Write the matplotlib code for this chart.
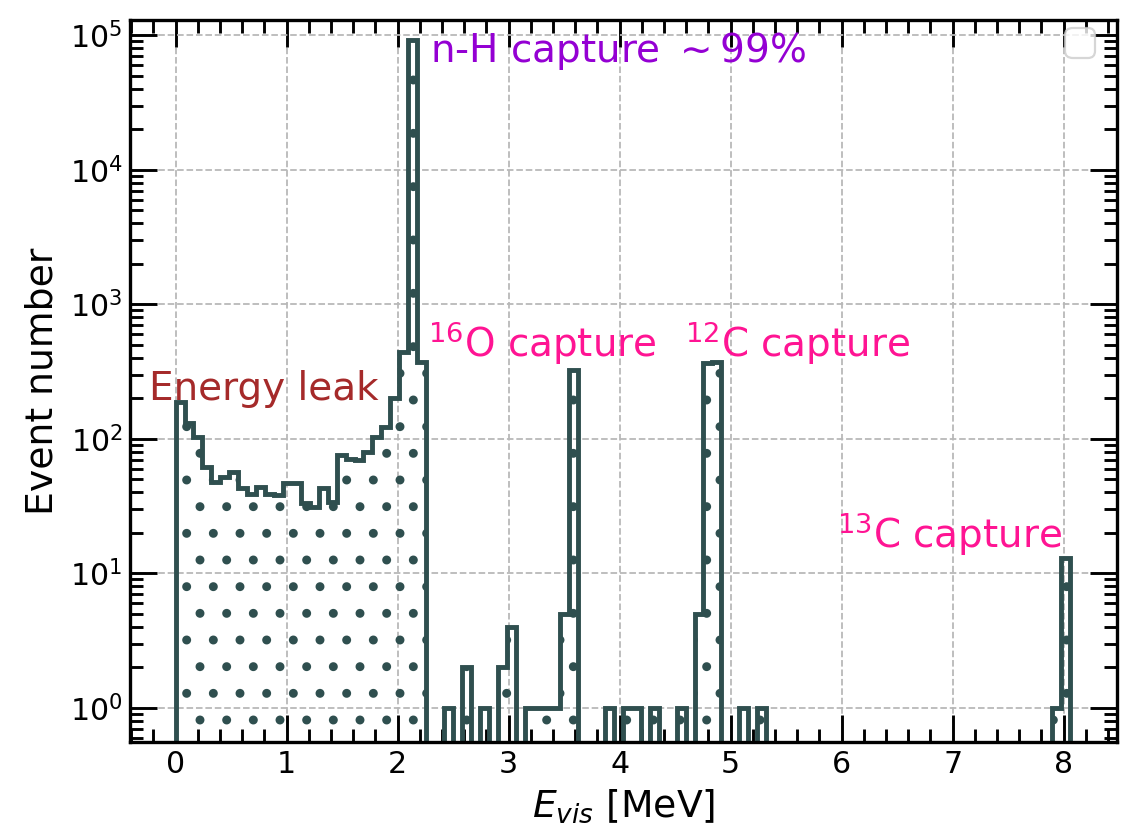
import numpy as np
import matplotlib.pyplot as plt
from matplotlib.ticker import MultipleLocator, LogLocator

# neutron capture visible energy spectrum, 100 bins from 0 to ~8.06 MeV
e_max = 8.06
n_bins = 100

# counts per bin, zero where nothing is drawn
counts = np.zeros(n_bins)
low_counts = [188, 130, 103, 62, 48, 52, 57, 43, 39, 44, 39, 38, 47, 47,
              33, 31, 43, 34, 76, 71, 70, 80, 103, 123, 200, 443, 92000, 373]
counts[:len(low_counts)] = low_counts

other_bins = [30, 32, 34, 36, 37, 39, 40, 41, 42, 43, 44,
              48, 50, 51, 53, 56, 58, 59, 60, 63, 65, 98, 99]
other_counts = [1, 2, 1, 2, 4, 1, 1, 1, 1, 5, 324,
                1, 1, 1, 1, 1, 5, 364, 374, 1, 1, 1, 13]
counts[other_bins] = other_counts

edges = np.linspace(0, e_max, n_bins + 1)
centers = 0.5 * (edges[1:] + edges[:-1])

plt.rcParams['hatch.linewidth'] = 1.6

fig = plt.figure(figsize=(1127 / 160, 830 / 160), dpi=160)
ax = fig.add_axes([0.1154, 0.106, 0.8757, 0.870])

ax.hist(centers, bins=edges, weights=counts, histtype='step', log=True,
        color='darkslategray', lw=2.2, hatch='.')

ax.set_xlim(-0.41, 8.48)
ax.set_ylim(0.556, 1.3e5)

ax.set_xlabel(r'$E_{vis}$ [MeV]', fontsize=17)
ax.set_ylabel('Event number', fontsize=17)

ax.xaxis.set_major_locator(MultipleLocator(1))
ax.xaxis.set_minor_locator(MultipleLocator(0.2))
ax.yaxis.set_major_locator(LogLocator(base=10, numticks=10))
ax.yaxis.set_minor_locator(LogLocator(base=10, subs=np.arange(2, 10), numticks=20))
ax.tick_params(which='both', direction='in', top=True, right=True, labelsize=13.5)
ax.tick_params(which='major', length=12, width=1.3)
ax.tick_params(which='minor', length=6, width=1.3)
for sp in ax.spines.values():
    sp.set_linewidth(1.5)

ax.grid(True, which='major', ls='--', color='0.72', lw=0.8)

ax.text(-0.24, 194, 'Energy leak', color='brown', fontsize=17.5)
ax.text(2.29, 63000, r'n-H capture $\sim$99%', color='darkviolet', fontsize=17.5)
ax.text(2.27, 405, r'$^{16}$O capture', color='deeppink', fontsize=17.5)
ax.text(4.59, 405, r'$^{12}$C capture', color='deeppink', fontsize=17.5)
ax.text(5.96, 15.4, r'$^{13}$C capture', color='deeppink', fontsize=17.5)

ax.legend(loc='upper right', fontsize=17, bbox_to_anchor=(0.978, 0.989),
          borderaxespad=0)

fig.savefig('out.png', dpi=160)
